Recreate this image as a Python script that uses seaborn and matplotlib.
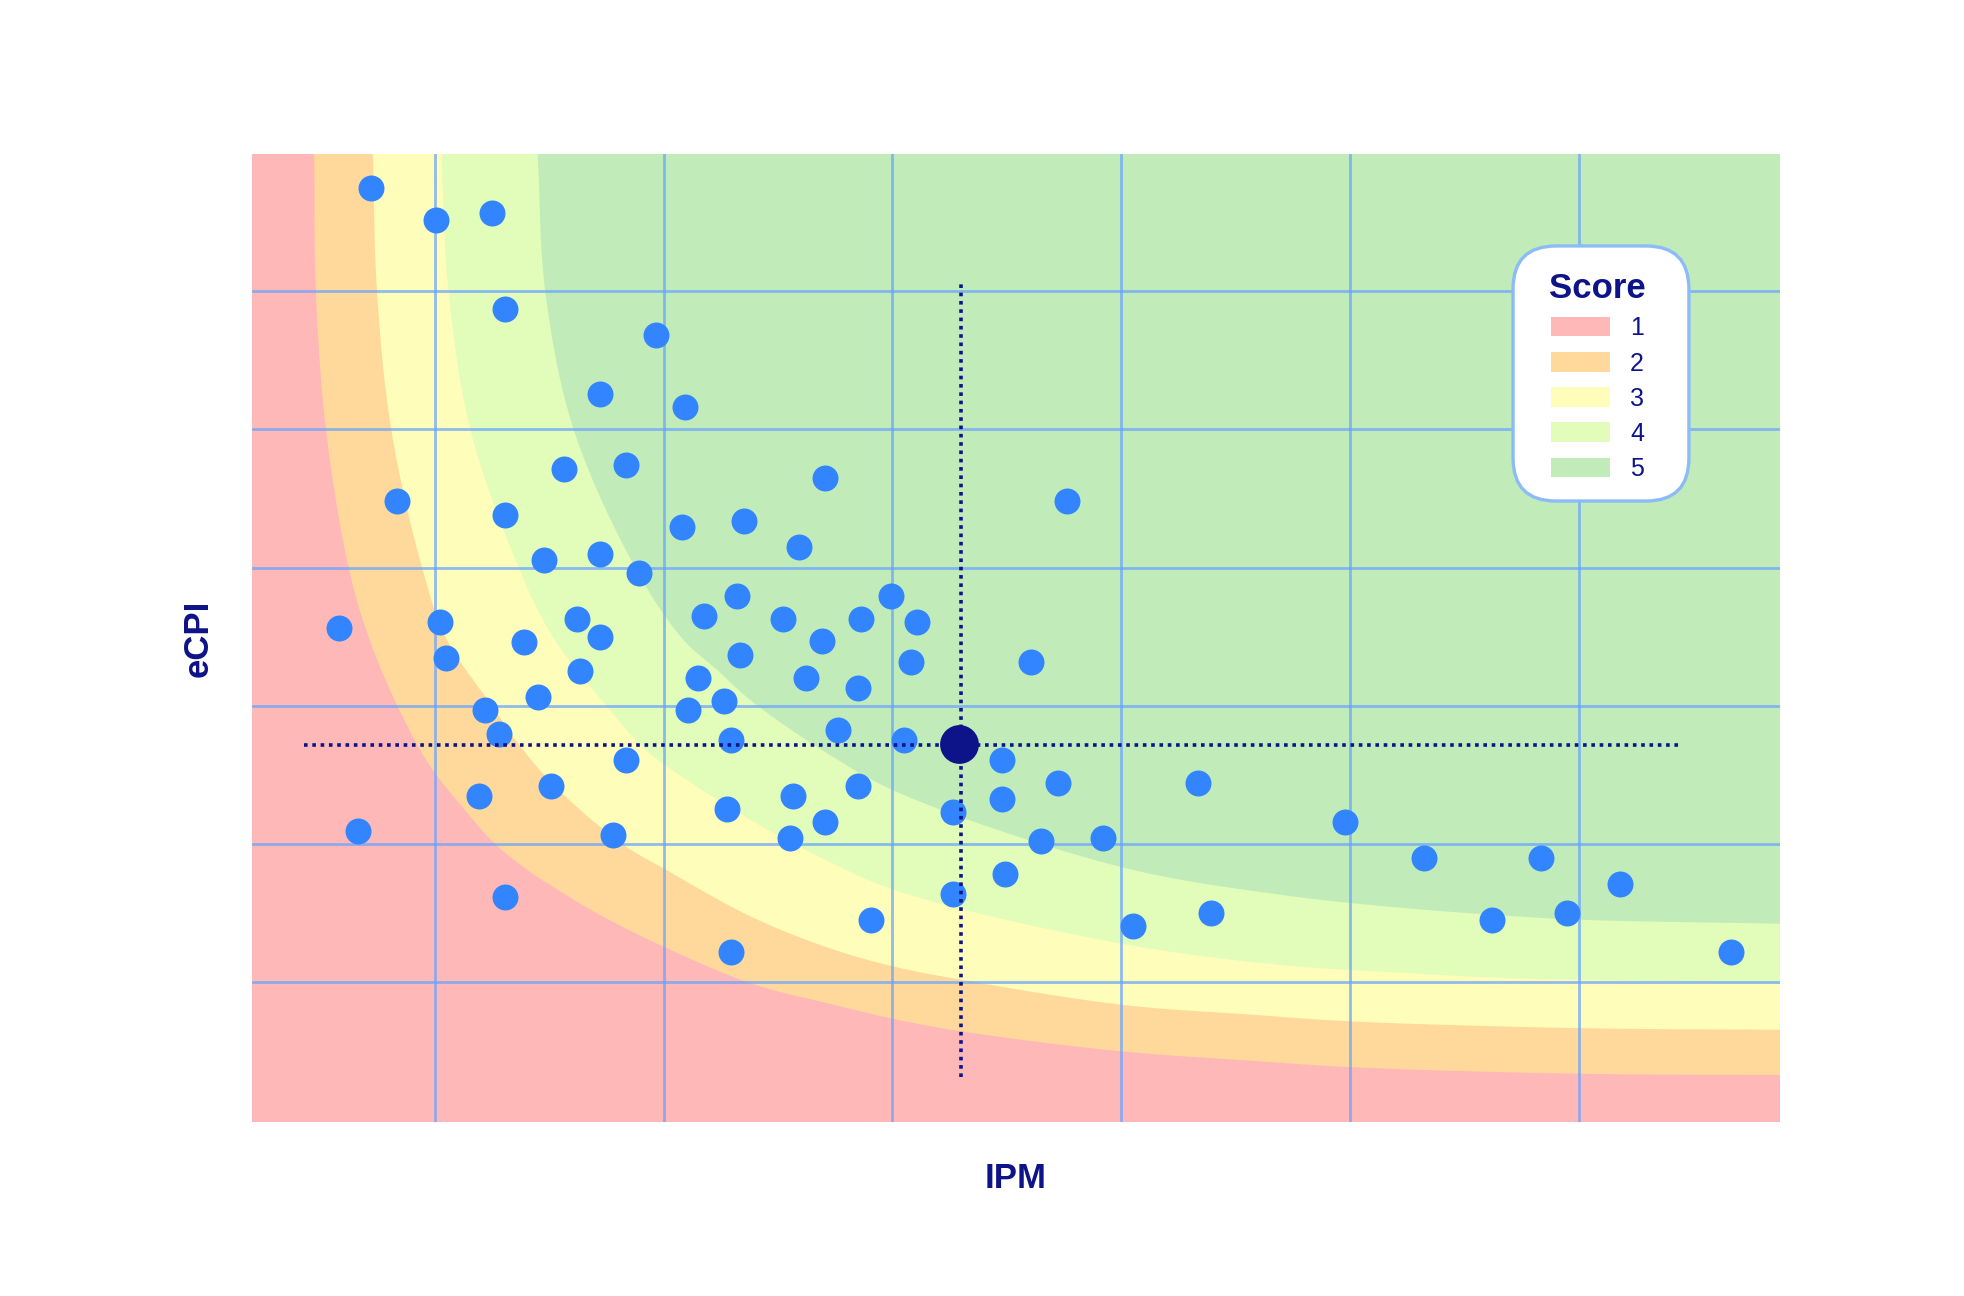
import numpy as np
import pandas as pd
import matplotlib
matplotlib.use("Agg")
import matplotlib.pyplot as plt
from matplotlib.patches import Patch, FancyBboxPatch
import seaborn as sns

# ---------------- data ----------------
ipm = [0.720, 1.007, 1.250, 1.308, 1.965, 1.722, 2.093, 1.564, 1.836, 0.837,
       1.308, 2.079, 2.350, 1.479, 1.721, 1.893, 2.322, 2.178, 0.582, 1.022,
       1.622, 1.721, 1.391, 1.051, 1.636, 1.450, 1.221, 1.280, 2.150, 2.264,
       2.107, 2.335, 2.293, 1.836, 1.508, 1.194, 2.278, 1.779, 0.665, 1.308,
       2.293, 2.706, 2.593, 2.993, 2.522, 2.864, 3.106, 2.692, 3.764, 3.080,
       3.606, 2.622, 2.849, 2.763, 3.049, 3.478, 3.722, 4.335, 2.849, 2.564,
       3.478, 3.264, 2.706, 2.551, 3.649, 3.921, 3.493, 3.264, 2.906, 4.049,
       4.391, 4.978, 5.321, 5.834, 6.177, 5.620, 5.948, 6.662]
ecpi = [6.747, 6.511, 6.566, 5.872, 5.684, 5.257, 5.163, 4.715, 4.739, 4.479,
        4.382, 4.291, 4.339, 4.054, 4.100, 3.958, 3.792, 3.649, 3.563, 3.604,
        3.628, 3.497, 3.461, 3.343, 3.249, 3.061, 2.967, 2.798, 3.201, 3.037,
        2.967, 3.369, 2.752, 2.610, 2.422, 2.350, 2.256, 2.068, 2.092, 1.617,
        1.217, 4.645, 4.148, 3.792, 3.630, 3.630, 3.604, 3.469, 4.479, 3.319,
        3.319, 3.201, 3.131, 2.825, 2.752, 2.610, 2.444, 2.444, 2.422, 2.350,
        2.326, 2.232, 2.162, 2.044, 2.020, 2.044, 1.783, 1.641, 1.453, 1.405,
        1.499, 2.162, 1.901, 1.901, 1.713, 1.453, 1.499, 1.217]

ref_ipm = [3.291]
ref_ecpi = [2.721]
cross_h_x = [0.428, 6.450]
cross_h_y = [2.716, 2.716]
cross_v_x = [3.300, 3.300]
cross_v_y = [0.317, 6.065]

x_range = [0.202, 6.877]
y_range = [-0.010, 6.991]

# score band boundaries, read from top edge to right edge
b12_x = [0.473, 0.481, 0.525, 0.624, 0.713, 0.843, 0.979, 1.125, 1.265, 1.416, 1.562, 1.708, 2.000, 2.386, 2.727, 3.001, 3.299, 4.000, 4.571, 5.000, 6.000, 6.877]
b12_y = [6.991, 6.000, 5.000, 4.000, 3.490, 2.979, 2.567, 2.260, 2.000, 1.800, 1.645, 1.500, 1.258, 0.990, 0.845, 0.737, 0.646, 0.501, 0.433, 0.387, 0.339, 0.330]
b23_x = [0.730, 0.748, 0.810, 0.945, 1.050, 1.250, 1.370, 1.530, 1.820, 2.000, 2.386, 2.727, 3.001, 3.299, 4.000, 4.571, 5.000, 6.000, 6.877]
b23_y = [6.991, 6.000, 5.000, 4.000, 3.490, 3.000, 2.716, 2.410, 2.000, 1.824, 1.472, 1.246, 1.116, 1.019, 0.838, 0.766, 0.718, 0.669, 0.657]
b34_x = [1.029, 1.061, 1.156, 1.367, 1.520, 1.751, 1.900, 2.000, 2.386, 2.727, 3.033, 3.994, 4.693, 5.217, 5.711, 6.877]
b34_y = [6.991, 6.000, 5.000, 4.000, 3.490, 3.000, 2.716, 2.580, 2.170, 1.870, 1.655, 1.282, 1.127, 1.070, 1.030, 0.991]
b45_x = [1.450, 1.483, 1.607, 1.876, 2.080, 2.241, 2.386, 2.727, 3.033, 3.994, 4.693, 5.217, 5.620, 6.000, 6.877]
b45_y = [6.991, 6.000, 5.000, 4.000, 3.490, 3.249, 3.032, 2.644, 2.367, 1.836, 1.634, 1.540, 1.489, 1.453, 1.424]

score_labels = ["1", "2", "3", "4", "5"]
score_colors = ["#FEB8B8", "#FED99B", "#FEFDBA", "#E2FCB9", "#C1ECBA"]

grid_x = [1, 2, 3, 4, 5, 6]
grid_y = [1, 2, 3, 4, 5, 6]


def smooth_curve(xs, ys, n=30, aspect=1.6556):
    """Centripetal Catmull-Rom curve through the read boundary vertices."""
    P = np.column_stack([np.asarray(xs, float) * aspect, np.asarray(ys, float)])
    P = np.vstack([2 * P[0] - P[1], P, 2 * P[-1] - P[-2]])
    out = []
    for i in range(1, len(P) - 2):
        p0, p1, p2, p3 = P[i - 1], P[i], P[i + 1], P[i + 2]
        t0 = 0.0
        t1 = t0 + np.linalg.norm(p1 - p0) ** 0.5
        t2 = t1 + np.linalg.norm(p2 - p1) ** 0.5
        t3 = t2 + np.linalg.norm(p3 - p2) ** 0.5
        t = np.linspace(t1, t2, n, endpoint=False)[:, None]
        A1 = (t1 - t) / (t1 - t0) * p0 + (t - t0) / (t1 - t0) * p1
        A2 = (t2 - t) / (t2 - t1) * p1 + (t - t1) / (t2 - t1) * p2
        A3 = (t3 - t) / (t3 - t2) * p2 + (t - t2) / (t3 - t2) * p3
        B1 = (t2 - t) / (t2 - t0) * A1 + (t - t0) / (t2 - t0) * A2
        B2 = (t3 - t) / (t3 - t1) * A2 + (t - t1) / (t3 - t1) * A3
        out.append((t2 - t) / (t2 - t1) * B1 + (t - t1) / (t2 - t1) * B2)
    out.append(P[-2][None, :])
    C = np.vstack(out)
    return C[:, 0] / aspect, C[:, 1]


# ---------------- figure ----------------
sns.set_theme(style="white")
plt.rcParams["font.family"] = ["Liberation Sans", "DejaVu Sans"]

navy = "#0D1388"
fig = plt.figure(figsize=(19.64, 12.96), dpi=100)
ax = fig.add_axes([0.12831, 0.13426, 0.77800, 0.74691])

ax.set_xlim(*x_range)
ax.set_ylim(*y_range)
ax.set_facecolor(score_colors[0])

bounds = [(b12_x, b12_y), (b23_x, b23_y), (b34_x, b34_y), (b45_x, b45_y)]
for (bx, by), col in zip(bounds, score_colors[1:]):
    sx, sy = smooth_curve(bx, by)
    px = list(sx) + [x_range[1]]
    py = list(sy) + [y_range[1]]
    ax.fill(px, py, color=col, lw=0, zorder=0.5)

ax.set_xticks(grid_x)
ax.set_yticks(grid_y)
ax.grid(True, color="#66A2FF", alpha=0.72, linewidth=2.0)
ax.tick_params(length=0, labelbottom=False, labelleft=False)
for s in ax.spines.values():
    s.set_visible(False)

df = pd.DataFrame({"IPM": ipm, "eCPI": ecpi})
sns.scatterplot(data=df, x="IPM", y="eCPI", ax=ax, color="#3385FF", s=350,
                linewidth=0, zorder=3, legend=False)

ax.plot(cross_h_x, cross_h_y, color=navy, lw=2.6, dashes=(1.0, 1.3), zorder=4)
ax.plot(cross_v_x, cross_v_y, color=navy, lw=2.6, dashes=(1.0, 1.3), zorder=4)

ref = pd.DataFrame({"IPM": ref_ipm, "eCPI": ref_ecpi})
sns.scatterplot(data=ref, x="IPM", y="eCPI", ax=ax, color=navy, s=780,
                linewidth=0, zorder=5, legend=False)

ax.set_xlabel("")
ax.set_ylabel("")
ax.text(0.5, -0.058, "IPM", transform=ax.transAxes, ha="center", va="center",
        fontsize=25, fontweight="bold", color=navy)
ax.text(-0.035, 0.5, "eCPI", transform=ax.transAxes, ha="center", va="center",
        rotation=90, fontsize=25, fontweight="bold", color=navy)

# legend box
box = FancyBboxPatch((0.8253, 0.6415), 0.1151, 0.2635,
                     boxstyle="round,pad=0,rounding_size=0.0281",
                     mutation_aspect=1.5785, transform=ax.transAxes,
                     facecolor="white", edgecolor="#8DBBF7", linewidth=2.4,
                     zorder=9)
ax.add_patch(box)

handles = [Patch(facecolor=c, edgecolor="none") for c in score_colors]
leg = ax.legend(handles, score_labels, title="Score", loc="upper center",
                bbox_to_anchor=(0.8805, 0.922), fontsize=18,
                title_fontproperties={"size": 25, "weight": "bold"},
                handlelength=2.36, handleheight=0.84, handletextpad=0.8,
                labelspacing=0.45, borderpad=1.2, frameon=False)
leg.get_title().set_color(navy)
for t in leg.get_texts():
    t.set_color(navy)
leg.set_zorder(10)

fig.savefig("out.png", dpi=100, facecolor="white")
